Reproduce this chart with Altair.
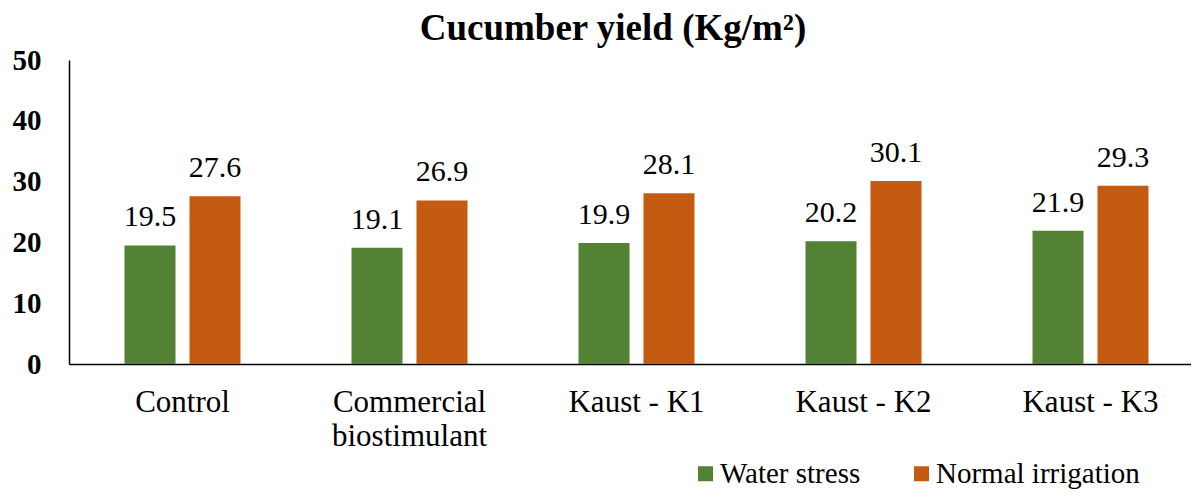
import altair as alt
import pandas as pd

categories = ["Control", "Commercial|biostimulant", "Kaust - K1", "Kaust - K2", "Kaust - K3"]
series = ["Water stress", "Normal irrigation"]
water_stress = [19.5, 19.1, 19.9, 20.2, 21.9]
normal_irrigation = [27.6, 26.9, 28.1, 30.1, 29.3]
colors = ["#548235", "#C55A11"]

rows = []
for i, c in enumerate(categories):
    rows.append({"cat": c, "series": series[0], "value": water_stress[i]})
    rows.append({"cat": c, "series": series[1], "value": normal_irrigation[i]})
df = pd.DataFrame(rows)

FONT = "Liberation Serif"

x = alt.X("cat:N", sort=categories, title=None,
          scale=alt.Scale(paddingInner=0.489, paddingOuter=0.2445, range=[0, 1135]),
          axis=alt.Axis(labelExpr="split(datum.label, '|')", labelAngle=0,
                        labelFont=FONT, labelFontSize=31, labelFontWeight="normal",
                        labelColor="black", labelLimit=400,
                        labelPadding=23, labelLineHeight=34, ticks=False,
                        domainColor="black", domainWidth=1.5, labelBaseline="top"))
xo = alt.XOffset("series:N", sort=series,
                 scale=alt.Scale(paddingInner=0.215, paddingOuter=0))
y = alt.Y("value:Q", title=None,
          scale=alt.Scale(domain=[0, 50]),
          axis=alt.Axis(values=[0, 10, 20, 30, 40, 50], grid=False, ticks=False,
                        labelFont=FONT, labelFontSize=29, labelFontWeight="bold",
                        labelColor="black", labelPadding=28,
                        domainColor="black", domainWidth=1.5))
color = alt.Color("series:N", sort=series,
                  scale=alt.Scale(domain=series, range=colors),
                  legend=alt.Legend(orient="none", legendX=622, legendY=399,
                                    direction="horizontal", columns=2,
                                    columnPadding=46, title=None, padding=0,
                                    symbolType="square", symbolSize=225,
                                    symbolStrokeWidth=0, labelOffset=0,
                                    labelFont=FONT, labelFontSize=29,
                                    labelFontWeight="normal",
                                    labelColor="black", labelLimit=400))

base = alt.Chart(df).encode(x=x, xOffset=xo, y=y)
bars = base.mark_bar().encode(color=color)
labels = base.mark_text(font=FONT, fontSize=30, fontWeight="normal", dy=-19,
                        baseline="alphabetic", color="black").encode(
    text=alt.Text("value:Q", format=".1f"))

chart = alt.layer(bars, labels).properties(
    width=1122, height=304,
    padding={"left": 61, "top": 52, "right": 0, "bottom": 126},
    autosize=alt.AutoSizeParams(type="none"),
    title=alt.TitleParams("Cucumber yield (Kg/m²)", font=FONT, fontSize=37,
                          fontWeight="bold", color="black", anchor="middle",
                          dx=-17, offset=-2),
).configure_view(stroke=None)

chart.save("out.html", embed_options={"renderer": "svg", "actions": False})
